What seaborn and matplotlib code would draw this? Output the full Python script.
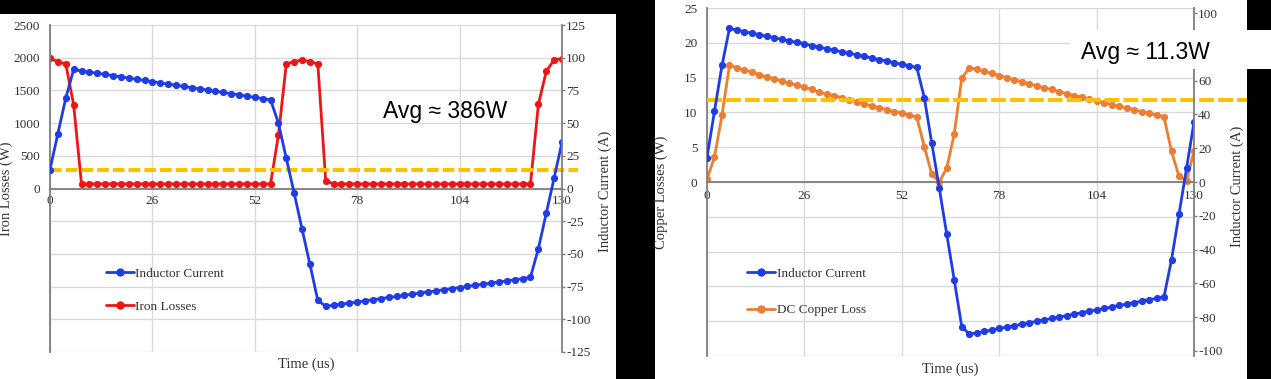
import matplotlib
matplotlib.use("Agg")
import matplotlib.pyplot as plt
from matplotlib.patches import Rectangle
from matplotlib.lines import Line2D
from matplotlib.ticker import FixedLocator, FixedFormatter
import seaborn as sns

# --- data (one sample every 2 us) ---
time_us = list(range(0, 131, 2))

inductor_current = [
    14.5, 42, 69,
    91.0, 89.8, 89.0, 88.1, 87.2, 86.3, 85.4, 84.4, 83.5, 82.6, 81.7, 80.8, 79.8,
    78.9, 78.0, 77.1, 76.2, 75.3, 74.3, 73.4, 72.5, 71.6, 70.6, 69.7, 68.8, 67.8,
    50, 23, -3.6, -31, -58, -85.6,
    -90.0, -89.3, -88.4, -87.6, -86.7, -85.9, -85.0, -84.2, -83.3, -82.5, -81.6,
    -80.8, -79.9, -79.1, -78.2, -77.4, -76.5, -75.7, -74.8, -74.0, -73.1, -72.3,
    -71.4, -70.6, -69.7, -68.9, -67.8,
    -46, -19, 8, 35.4,
]

iron_losses = [
    1990, 1940, 1905, 1280,
    70, 70, 70, 70, 70, 70, 70, 70, 70, 70, 70, 70, 70, 70, 70, 70, 70, 70, 70,
    70, 70, 70, 70, 70, 70,
    820, 1905, 1940, 1965, 1940, 1905, 120,
    70, 70, 70, 70, 70, 70, 70, 70, 70, 70, 70, 70, 70, 70, 70, 70, 70, 70, 70,
    70, 70, 70, 70, 70, 70, 70,
    1285, 1790, 1970, 1985,
]

copper_loss = [
    0.4, 3.6, 9.6,
    16.8, 16.4, 16.1, 15.8, 15.4, 15.1, 14.8, 14.5, 14.2, 13.9, 13.6, 13.3, 12.9,
    12.6, 12.4, 12.1, 11.8, 11.5, 11.2, 10.9, 10.7, 10.4, 10.1, 9.9, 9.6, 9.3,
    5.1, 1.1, 0.0, 2.0, 6.9, 14.9,
    16.4, 16.2, 15.9, 15.6, 15.3, 15.0, 14.7, 14.4, 14.1, 13.8, 13.5, 13.3, 13.0,
    12.7, 12.4, 12.2, 11.9, 11.6, 11.4, 11.1, 10.9, 10.6, 10.4, 10.1, 9.9, 9.6, 9.3,
    4.4, 0.8, 0.2, 4.4,
]

iron_avg_line = 285      # W, dashed reference line (left panel)
copper_avg_line = 11.8   # W, dashed reference line (right panel)
iron_avg_text = "Avg ≈ 386W"
copper_avg_text = "Avg ≈ 11.3W"

x_ticks = [0, 26, 52, 78, 104, 130]

BLUE = "#1F3CE6"
RED = "#F01414"
ORANGE = "#ED7D31"
GOLD = "#FFC000"
GRID = "#D9D9D9"
SPINE = "#7F7F7F"
TXT = "#333333"

sns.set_theme(style="white")
plt.rcParams["font.family"] = ["Liberation Serif", "DejaVu Serif"]
plt.rcParams["axes.unicode_minus"] = False

W, H = 1271, 379
fig = plt.figure(figsize=(W / 100, H / 100), dpi=100)
fig.patch.set_facecolor("black")

# white panel backgrounds (pixel boxes converted to figure fractions)
def px_rect(x0, y0, x1, y1, z):
    r = Rectangle((x0 / W, 1 - y1 / H), (x1 - x0) / W, (y1 - y0) / H,
                  transform=fig.transFigure, facecolor="white",
                  edgecolor="none", zorder=z)
    fig.add_artist(r)

px_rect(0, 14, 616, 379, -1)
px_rect(655, 0, 1247, 379, -1)


def make_panel(rect, ylim_l, ystep_l, ylim_r, ystep_r, left_series, left_color,
               left_label, hidden_r, left_ylabel, avg_y, avg_xmax, dash,
               leg_anchor, leg_spacing, ylab_pos, rlab_pos, xlab_y, xpad):
    ax = fig.add_axes(rect)
    ax.set_facecolor("none")
    ax2 = ax.twinx()

    sns.lineplot(x=time_us, y=left_series, ax=ax, color=left_color, marker="o",
                 markersize=5.2, markeredgewidth=0, linewidth=2, legend=False)
    ax.axhline(avg_y, xmin=0, xmax=avg_xmax, color=GOLD, linewidth=2.9,
               dashes=dash, clip_on=False, zorder=3)
    sns.lineplot(x=time_us, y=inductor_current, ax=ax2, color=BLUE, marker="o",
                 markersize=5.2, markeredgewidth=0, linewidth=2, legend=False)

    ax.set_xlim(0, 130)
    ax.set_ylim(*ylim_l)
    ax2.set_ylim(*ylim_r)

    # left ticks: gridlines everywhere, labels only for >= 0
    lt = list(range(ylim_l[0], ylim_l[1] + 1, ystep_l))
    ax.yaxis.set_major_locator(FixedLocator(lt))
    ax.yaxis.set_major_formatter(FixedFormatter([str(v) if v >= 0 else "" for v in lt]))
    top = (ylim_r[1] // ystep_r) * ystep_r
    rt = list(range(-top, top + 1, ystep_r))
    ax2.yaxis.set_major_locator(FixedLocator(rt))
    ax2.yaxis.set_major_formatter(FixedFormatter(["" if v == hidden_r else str(v) for v in rt]))

    ax.set_xticks(x_ticks)
    ax.grid(True, color=GRID, linewidth=1)
    ax2.grid(False)

    for s in ["top", "right"]:
        ax.spines[s].set_visible(False)
    ax.spines["bottom"].set_position(("data", 0))
    ax.spines["bottom"].set_color(SPINE)
    ax.spines["left"].set_color(SPINE)
    ax.spines["bottom"].set_linewidth(1.3)
    ax.spines["left"].set_linewidth(1.3)
    for s in ["top", "left", "bottom"]:
        ax2.spines[s].set_visible(False)
    ax2.spines["right"].set_color(SPINE)
    ax2.spines["right"].set_linewidth(1.3)

    ax.tick_params(axis="y", length=0, pad=7, labelsize=9.5, labelcolor=TXT)
    ax.tick_params(axis="x", length=0, pad=xpad, labelsize=9.5, labelcolor=TXT)
    ax2.tick_params(axis="y", length=2, width=1, color=SPINE, pad=1,
                    labelsize=9.5, labelcolor=TXT)

    ax.set_ylabel(left_ylabel, fontsize=10.5, color=TXT)
    ax.yaxis.set_label_coords(*ylab_pos)
    ax2.set_ylabel("Inductor Current (A)", fontsize=10.5, color=TXT)
    ax2.yaxis.set_label_coords(*rlab_pos)
    ax.set_xlabel("Time (us)", fontsize=10.5, color=TXT)
    ax.xaxis.set_label_coords(0.5, xlab_y)

    handles = [
        Line2D([], [], color=BLUE, marker="o", markersize=5, linewidth=2),
        Line2D([], [], color=left_color, marker="o", markersize=5, linewidth=2),
    ]
    ax.legend(handles, ["Inductor Current", left_label], loc="upper left",
              bbox_to_anchor=leg_anchor, frameon=False, fontsize=9.5,
              handlelength=2.1, handletextpad=0.15, labelspacing=leg_spacing,
              borderpad=0, borderaxespad=0, labelcolor=TXT)
    return ax, ax2


# left panel: plot area x 50..562, y 25..352 px
make_panel([50 / W, 1 - 352 / H, 512 / W, 327 / H], (-2500, 2500), 500,
           (-125, 125), 25, iron_losses, RED, "Iron Losses", None,
           "Iron Losses (W)", iron_avg_line, (578 - 50) / 512, (2.9, 1.0),
           (0.109, 0.259), 1.58, (-0.072, 0.5), (1.072, 0.49), -0.018, 5)

# right panel: plot area x 707..1194, y 8..356 px
make_panel([707 / W, 1 - 356 / H, 487 / W, 348 / H], (-25, 25), 5,
           (-103, 103), 20, copper_loss, ORANGE, "DC Copper Loss", 80,
           "Copper Losses (W)", copper_avg_line, (1247 - 707) / 487, (3.7, 1.0),
           (0.082, 0.254), 1.85, (-0.080, 0.47), (1.076, 0.486), -0.019, 5.5)

# white box behind the right annotation (covers spine and grid)
px_rect(1070, 30, 1271, 69, 5)

fig.text(445 / W, 1 - 118.3 / H, iron_avg_text, ha="center", va="baseline",
         fontsize=16.5, color="black", family=["Liberation Sans", "DejaVu Sans"],
         zorder=6)
fig.text(1145 / W, 1 - 59.3 / H, copper_avg_text, ha="center", va="baseline",
         fontsize=16.5, color="black", family=["Liberation Sans", "DejaVu Sans"],
         zorder=6)

fig.savefig("out.png", dpi=100, facecolor=fig.get_facecolor())
